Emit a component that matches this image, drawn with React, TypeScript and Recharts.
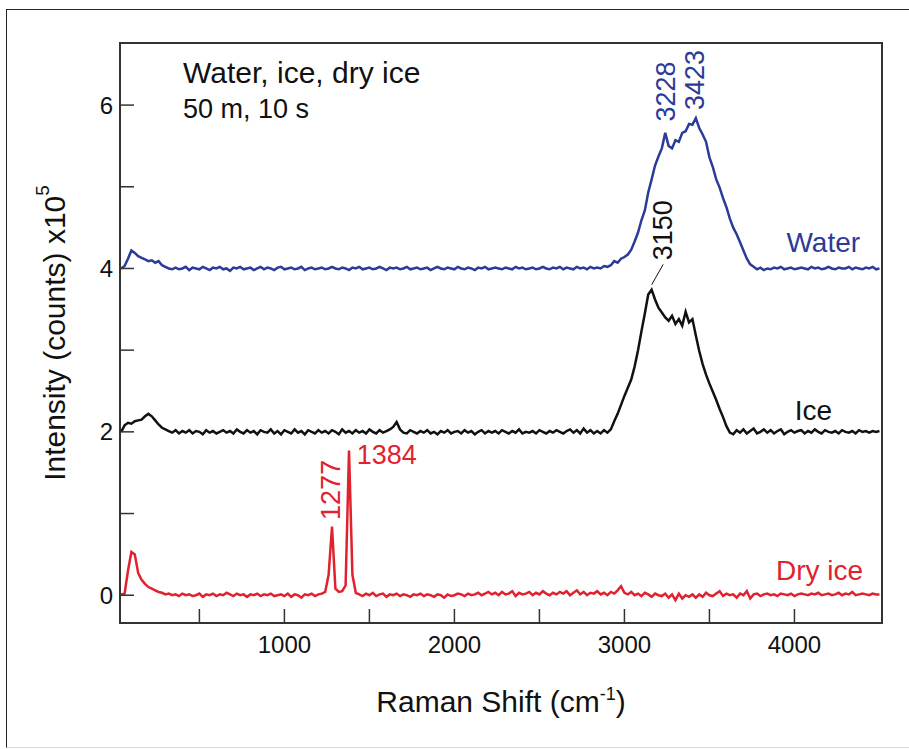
import React from 'react'
import {
  LineChart,
  Line,
  XAxis,
  YAxis,
  ReferenceArea,
  ReferenceDot,
  ReferenceLine,
} from 'recharts'

// Raman shift grid (cm-1), one sample every 20 cm-1 from 40 to 4500
const SHIFT = Array.from({ length: 224 }, (_, i) => 40 + i * 20)

// intensities in units of 1e5 counts, offset per trace (water +4, ice +2)
const WATER = [
  4.00, 4.03, 4.12, 4.22, 4.19, 4.15, 4.13, 4.11, 4.09, 4.10,
  4.07, 4.09, 4.04, 4.02, 4.00, 3.99, 4.01, 3.99, 4.00, 4.02,
  3.98, 4.01, 4.00, 3.99, 4.02, 4.00, 3.98, 4.01, 4.00, 4.02,
  3.99, 4.00, 3.97, 4.01, 4.00, 4.02, 3.99, 4.00, 4.01, 3.98,
  4.00, 4.02, 3.99, 4.01, 4.00, 3.98, 4.01, 4.02, 3.99, 4.00,
  4.01, 3.99, 4.00, 4.02, 3.98, 4.00, 4.01, 3.99, 4.00, 4.01,
  3.99, 4.00, 4.02, 4.00, 3.99, 4.01, 4.00, 3.98, 4.01, 4.00,
  4.02, 3.99, 4.00, 4.01, 3.99, 4.00, 4.02, 4.00, 3.98, 4.01,
  4.00, 4.01, 3.99, 4.00, 4.02, 3.99, 4.00, 4.01, 3.99, 4.00,
  4.01, 3.98, 4.00, 4.02, 4.00, 3.99, 4.01, 4.00, 3.99, 4.02,
  4.00, 3.99, 4.01, 4.00, 3.98, 4.01, 4.00, 4.02, 3.99, 4.00,
  4.01, 4.00, 3.99, 4.01, 4.00, 3.99, 4.02, 4.00, 4.01, 3.99,
  4.00, 4.01, 3.99, 4.00, 4.02, 4.00, 3.99, 4.01, 4.00, 4.02,
  3.99, 4.01, 4.00, 3.99, 4.02, 4.00, 4.01, 3.99, 4.02, 4.00,
  4.01, 4.00, 4.03, 4.02, 4.04, 4.09, 4.07, 4.12, 4.14, 4.17,
  4.23, 4.33, 4.44, 4.59, 4.71, 4.93, 5.09, 5.26, 5.37, 5.47,
  5.66, 5.50, 5.47, 5.57, 5.55, 5.66, 5.68, 5.77, 5.76, 5.84,
  5.72, 5.64, 5.55, 5.36, 5.24, 5.09, 4.99, 4.86, 4.75, 4.61,
  4.50, 4.42, 4.32, 4.22, 4.12, 4.05, 4.02, 3.99, 4.01, 3.98,
  4.00, 3.99, 4.01, 4.00, 4.02, 3.99, 4.00, 4.01, 3.99, 4.00,
  4.01, 4.00, 3.99, 4.02, 4.00, 4.01, 3.99, 4.00, 4.02, 4.00,
  3.99, 4.01, 4.00, 4.00, 4.02, 3.99, 4.01, 4.00, 3.99, 4.01,
  4.00, 4.02, 3.99, 4.00,
]

const ICE = [
  2.00, 2.08, 2.11, 2.10, 2.13, 2.14, 2.15, 2.19, 2.22, 2.19,
  2.14, 2.09, 2.05, 2.03, 2.01, 1.99, 2.02, 1.98, 2.01, 1.99,
  2.02, 1.98, 2.01, 2.00, 1.97, 2.02, 1.99, 2.01, 1.98, 2.00,
  2.02, 1.99, 2.01, 1.98, 2.03, 2.00, 1.98, 2.02, 1.99, 2.01,
  1.97, 2.02, 2.00, 1.99, 2.03, 1.98, 2.01, 1.97, 2.02, 2.00,
  1.98, 2.03, 1.99, 2.01, 1.97, 2.02, 2.00, 1.98, 2.02, 1.99,
  2.01, 1.98, 2.02, 2.00, 1.97, 2.03, 1.99, 2.01, 1.98, 2.02,
  1.99, 2.01, 1.98, 2.03, 2.00, 1.98, 2.02, 1.99, 2.01, 2.03,
  2.06, 2.12, 2.03, 1.99, 1.98, 2.02, 2.00, 1.98, 2.01, 1.99,
  2.02, 1.98, 2.00, 1.97, 2.01, 1.99, 2.02, 1.98, 2.00, 2.01,
  1.98, 2.02, 1.99, 2.01, 1.97, 2.00, 2.02, 1.98, 2.01, 1.99,
  2.01, 1.98, 2.02, 2.00, 1.98, 2.01, 1.99, 2.03, 1.98, 2.00,
  1.99, 2.01, 1.98, 2.02, 2.00, 1.98, 2.01, 1.99, 2.02, 2.00,
  1.98, 2.01, 2.03, 1.99, 2.02, 1.98, 2.04, 1.99, 2.02, 1.98,
  2.01, 1.98, 2.02, 1.99, 2.03, 2.13, 2.22, 2.33, 2.44, 2.54,
  2.64, 2.80, 3.00, 3.23, 3.45, 3.68, 3.74, 3.62, 3.52, 3.46,
  3.40, 3.36, 3.42, 3.32, 3.38, 3.30, 3.47, 3.34, 3.38, 3.18,
  2.99, 2.83, 2.70, 2.59, 2.49, 2.39, 2.28, 2.18, 2.07, 1.99,
  1.97, 2.02, 1.99, 2.03, 1.98, 2.01, 2.04, 1.98, 2.00, 2.03,
  1.99, 2.02, 1.98, 2.01, 2.03, 1.97, 2.00, 2.02, 1.99, 2.01,
  2.02, 1.98, 2.01, 1.99, 2.03, 2.00, 1.98, 2.02, 2.00, 1.99,
  2.01, 1.98, 2.02, 2.00, 1.99, 2.01, 1.98, 2.02, 2.00, 2.01,
  1.99, 2.01, 2.00, 2.01,
]

const DRY_ICE = [
  0.01, 0.02, 0.30, 0.53, 0.50, 0.27, 0.19, 0.14, 0.10, 0.08,
  0.06, 0.04, 0.03, 0.01, 0.02, 0.00, 0.01, -0.01, 0.02, 0.00,
  0.01, -0.01, 0.00, 0.02, -0.02, 0.01, 0.00, 0.02, -0.01, 0.01,
  0.00, 0.03, 0.01, -0.01, 0.02, 0.00, 0.01, -0.02, 0.01, 0.00,
  0.02, -0.01, 0.01, 0.00, 0.02, -0.01, 0.00, 0.01, -0.01, 0.02,
  -0.02, 0.01, 0.00, -0.03, 0.01, 0.00, 0.02, -0.01, 0.01, 0.02,
  0.04, 0.25, 0.84, 0.08, 0.04, 0.05, 0.12, 1.77, 0.25, 0.03,
  0.01, -0.01, 0.02, 0.00, 0.03, -0.01, 0.01, 0.02, -0.02, 0.01,
  0.00, 0.02, -0.01, 0.01, 0.00, -0.02, 0.01, 0.00, 0.02, -0.01,
  0.01, 0.00, -0.02, 0.01, 0.00, -0.03, 0.01, -0.01, 0.00, 0.02,
  0.01, -0.01, 0.02, 0.00, 0.01, 0.03, 0.00, 0.02, 0.04, 0.01,
  0.03, 0.00, 0.04, 0.01, 0.02, 0.05, -0.01, 0.03, 0.01, 0.02,
  0.04, 0.00, 0.03, 0.01, 0.05, 0.02, 0.00, 0.03, 0.01, 0.04,
  0.02, 0.05, 0.00, 0.03, 0.06, 0.01, 0.04, 0.00, 0.03, 0.02,
  0.05, 0.01, 0.03, 0.00, 0.04, 0.02, 0.06, 0.11, 0.03, 0.01,
  0.04, 0.00, 0.02, -0.01, 0.03, 0.01, -0.02, 0.02, 0.00, -0.01,
  0.02, -0.03, 0.01, -0.06, 0.02, -0.04, 0.00, -0.02, 0.01, -0.03,
  0.01, -0.02, 0.03, 0.00, -0.01, 0.02, 0.05, -0.01, 0.02, 0.00,
  0.01, -0.03, 0.02, 0.00, 0.05, -0.04, 0.01, 0.02, -0.01, 0.01,
  0.02, 0.00, 0.01, -0.01, 0.02, 0.01, 0.00, 0.02, -0.01, 0.01,
  0.02, 0.01, 0.00, 0.02, 0.01, 0.03, 0.00, 0.01, 0.02, 0.00,
  0.01, 0.03, 0.00, 0.02, 0.01, 0.04, 0.00, 0.01, 0.02, 0.01,
  0.00, 0.02, 0.01, 0.01,
]

const X_TICKS = [500, 1000, 1500, 2000, 2500, 3000, 3500, 4000]
const Y_TICKS = [0, 1, 2, 3, 4, 5, 6]

const BLUE = '#2b3b96'
const RED = '#e0222f'
const INK = '#111111'
const FRAME = '#333333'

const rows = SHIFT.map((shift, i) => ({
  shift,
  water: WATER[i],
  ice: ICE[i],
  dryIce: DRY_ICE[i],
}))

// inward tick marks, labels only on the thousands
function XTick(props: any) {
  const { x, y, payload } = props
  return (
    <g>
      <line x1={x} x2={x} y1={y} y2={y - 14} stroke={FRAME} strokeWidth={1.5} />
      {payload.value % 1000 === 0 && (
        <text x={x} y={y + 30} textAnchor="middle" fontSize={24} fill={INK}>
          {payload.value}
        </text>
      )}
    </g>
  )
}

function YTick(props: any) {
  const { x, y, payload } = props
  return (
    <g>
      <line x1={x} x2={x + 14} y1={y} y2={y} stroke={FRAME} strokeWidth={1.5} />
      {payload.value % 2 === 0 && (
        <text x={x - 7} y={y + 8.5} textAnchor="end" fontSize={24} fill={INK}>
          {payload.value}
        </text>
      )}
    </g>
  )
}

function XTitle(props: any) {
  const { viewBox } = props
  const cx = viewBox.x + viewBox.width / 2
  return (
    <text x={cx} y={viewBox.y + 89} textAnchor="middle" fontSize={30} fill={INK}>
      Raman Shift (cm
      <tspan dy={-12} fontSize={18}>-1</tspan>
      <tspan dy={12}>)</tspan>
    </text>
  )
}

function YTitle(props: any) {
  const { viewBox } = props
  const cx = 54
  const cy = viewBox.y + viewBox.height / 2
  return (
    <text
      x={cx}
      y={cy}
      textAnchor="middle"
      dominantBaseline="central"
      fontSize={30}
      fill={INK}
      transform={`rotate(-90 ${cx} ${cy})`}
    >
      Intensity (counts) x10
      <tspan dy={-12} fontSize={19}>5</tspan>
    </text>
  )
}

// free text placed at a data coordinate
function Tag(props: any) {
  const { viewBox, text, color = INK, size = 27, dx = 0, anchor = 'start', vertical = false } = props
  const x = viewBox.x + dx
  const y = viewBox.y
  return (
    <text
      x={x}
      y={y}
      fill={color}
      fontSize={size}
      textAnchor={anchor}
      dominantBaseline={vertical ? 'central' : undefined}
      transform={vertical ? `rotate(-90 ${x} ${y})` : undefined}
    >
      {text}
    </text>
  )
}

export default function App() {
  return (
    <div
      style={{
        position: 'absolute',
        left: 0,
        top: 0,
        width: 909,
        height: 749,
        background: '#fff',
        overflow: 'hidden',
        fontFamily: '"Liberation Sans", Arial, Helvetica, sans-serif',
      }}
    >
      <div
        style={{
          position: 'absolute',
          left: 6,
          top: 9,
          width: 920,
          height: 737,
          borderLeft: '1.5px solid #222',
          borderTop: '1.5px solid #222',
          borderBottom: '1px solid #d8d8d8',
        }}
      />
      <div style={{ position: 'absolute', left: 0, top: 0 }}>
        <LineChart width={909} height={749} data={rows} margin={{ top: 43, right: 27, bottom: 0, left: 0 }}>
          <XAxis
            type="number"
            dataKey="shift"
            domain={[33, 4515]}
            allowDataOverflow
            ticks={X_TICKS}
            interval={0}
            tick={<XTick />}
            tickLine={false}
            axisLine={false}
            tickSize={0}
            tickMargin={0}
            height={126}
            label={<XTitle />}
          />
          <YAxis
            type="number"
            domain={[-0.34, 6.76]}
            allowDataOverflow
            ticks={Y_TICKS}
            interval={0}
            tick={<YTick />}
            tickLine={false}
            axisLine={false}
            tickSize={0}
            tickMargin={0}
            width={120}
            label={<YTitle />}
          />
          <Line dataKey="water" stroke={BLUE} strokeWidth={2.5} dot={false} isAnimationActive={false} />
          <Line dataKey="ice" stroke={INK} strokeWidth={2.5} dot={false} isAnimationActive={false} />
          <Line dataKey="dryIce" stroke={RED} strokeWidth={2.5} dot={false} isAnimationActive={false} />

          <ReferenceLine
            segment={[
              { x: 3160, y: 3.8 },
              { x: 3228, y: 4.05 },
            ]}
            stroke={INK}
            strokeWidth={1}
          />

          <ReferenceDot x={404} y={6.267} r={0} stroke="none" label={<Tag text="Water, ice, dry ice" size={30} />} />
          <ReferenceDot x={404} y={5.846} r={0} stroke="none" label={<Tag text="50 m, 10 s" size={27} />} />

          <ReferenceDot x={3228} y={5.8} r={0} stroke="none" label={<Tag text="3228" color={BLUE} vertical dx={3} />} />
          <ReferenceDot x={3423} y={5.94} r={0} stroke="none" label={<Tag text="3423" color={BLUE} vertical dx={-1} />} />
          <ReferenceDot x={3150} y={4.1} r={0} stroke="none" label={<Tag text="3150" vertical dx={13} />} />
          <ReferenceDot x={1277} y={0.92} r={0} stroke="none" label={<Tag text="1277" color={RED} vertical />} />
          <ReferenceDot x={1384} y={1.61} r={0} stroke="none" label={<Tag text="1384" color={RED} dx={7} />} />

          <ReferenceDot x={4386} y={4.205} r={0} stroke="none" label={<Tag text="Water" color={BLUE} size={28} anchor="end" />} />
          <ReferenceDot x={4222} y={2.14} r={0} stroke="none" label={<Tag text="Ice" size={28} anchor="end" />} />
          <ReferenceDot x={4404} y={0.184} r={0} stroke="none" label={<Tag text="Dry ice" color={RED} size={28} anchor="end" />} />

          <ReferenceArea x1={33} x2={4515} y1={-0.34} y2={6.76} fill="none" stroke={FRAME} strokeWidth={2} />
        </LineChart>
      </div>
    </div>
  )
}
